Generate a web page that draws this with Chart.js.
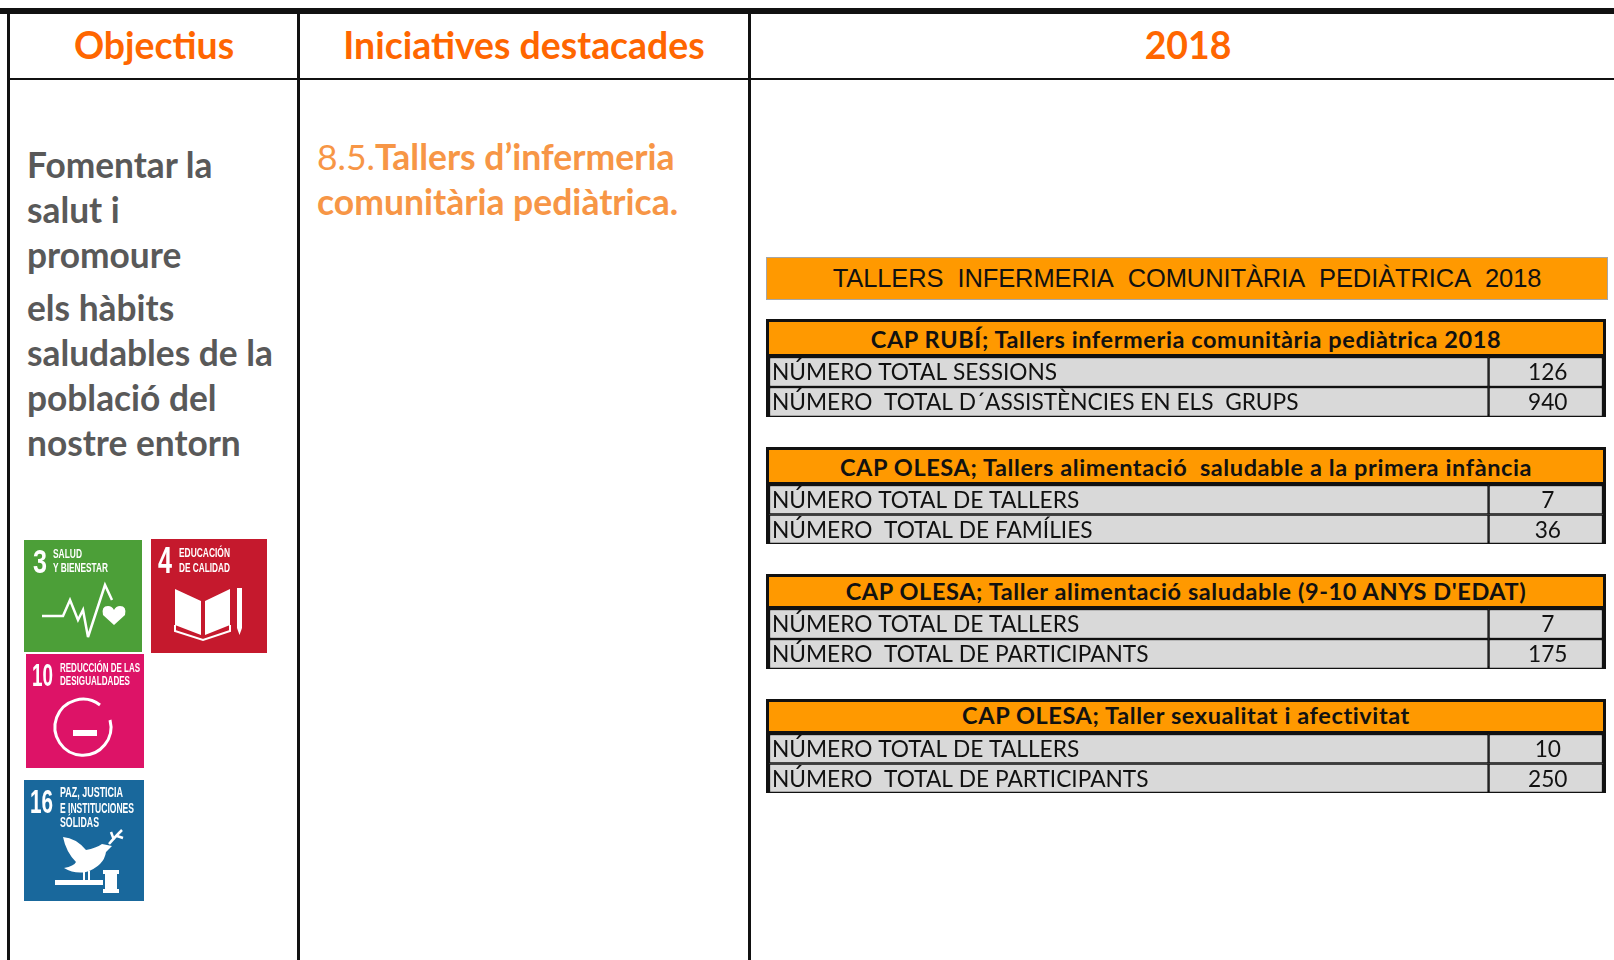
<!DOCTYPE html>
<html lang="ca">
<head>
<meta charset="utf-8">
<title>Tallers infermeria comunitària pediàtrica 2018</title>
<script src="https://cdn.jsdelivr.net/npm/chart.js@4"></script>
<style>
  html, body { margin: 0; padding: 0; background: #fff; overflow: hidden; }
  #page { position: relative; width: 1614px; height: 960px; font-family: Lato, sans-serif; }
  .line { position: absolute; background: #111; }
  .head { position: absolute; top: 23px; height: 44px; line-height: 44px; text-align: center;
          color: #ff6600; font-weight: 700; font-size: 37.4px; }
  .obj { position: absolute; left: 27px; color: #595959; font-weight: 700; font-size: 35.3px;
         line-height: 45px; white-space: nowrap; }
  .ini { position: absolute; left: 317px; top: 134px; color: #f79646; font-weight: 700; font-size: 35.5px;
         line-height: 45px; white-space: nowrap; }
  .ini span { font-weight: 400; }
  #banner { position: absolute; left: 766px; top: 257px; width: 842px; height: 43px; box-sizing: border-box;
            background: #ff9900; border: 1px solid #a6a6a6; text-align: center; line-height: 41px;
            font-family: "Liberation Sans", sans-serif; font-size: 25.5px; letter-spacing: -0.1px; color: #111; }
  .table { position: absolute; left: 766px; width: 840px; box-sizing: border-box; border: 3px solid #111; }
  .table .title { background: #ff9900; text-align: center; font-weight: 700; font-size: 23.5px;
                  color: #111; border-bottom: 3px solid #111; box-sizing: border-box; letter-spacing: 0.6px; }
  .table canvas { display: block; }
  svg.sdg { position: absolute; filter: blur(0.5px); overflow: visible; }
  svg.sdg text { font-family: "Liberation Sans", sans-serif; font-weight: 700; fill: #fff; }
</style>
</head>
<body>
<div id="page">
  <div class="line" style="left:0;top:8px;width:1614px;height:6px"></div>
  <div class="line" style="left:7px;top:8px;width:3px;height:952px"></div>
  <div class="line" style="left:297px;top:8px;width:3px;height:952px"></div>
  <div class="line" style="left:748px;top:8px;width:3px;height:952px"></div>
  <div class="line" style="left:7px;top:78px;width:1607px;height:2px"></div>

  <div class="head" style="left:10px;width:288px">Objectius</div>
  <div class="head" style="left:300px;width:448px">Iniciatives destacades</div>
  <div class="head" style="left:757px;width:862px">2018</div>

  <div class="obj" style="top:142px">Fomentar la<br>salut i<br>promoure</div>
  <div class="obj" style="top:285px">els hàbits<br>saludables de la<br>població del<br>nostre entorn</div>
  <div class="ini"><span>8.5.</span>Tallers d’infermeria<br>comunitària pediàtrica.</div>

  <svg class="sdg" style="left:24px;top:540px" width="118" height="112" viewBox="0 0 118 112">
    <rect width="118" height="112" fill="#4c9f38"/>
    <text x="9" y="33" font-size="34" textLength="14" lengthAdjust="spacingAndGlyphs">3</text>
    <text x="29" y="18" font-size="13" textLength="29" lengthAdjust="spacingAndGlyphs">SALUD</text>
    <text x="29" y="32" font-size="13" textLength="55" lengthAdjust="spacingAndGlyphs">Y BIENESTAR</text>
    <polyline points="18,76 39,76 46,60 54,80 59,70 64,97 81,45 88,60" fill="none" stroke="#fff" stroke-width="2.5"/>
    <path d="M90,85 L79,75 Q77,66 84,66 Q88,66 90,70 Q92,66 96,66 Q103,66 101,75 Z" fill="#fff"/>
  </svg>
  <svg class="sdg" style="left:151px;top:539px" width="116" height="114" viewBox="0 0 116 114">
    <rect width="116" height="114" fill="#c5192d"/>
    <text x="7" y="34" font-size="36" textLength="14" lengthAdjust="spacingAndGlyphs">4</text>
    <text x="28" y="18" font-size="13" textLength="51" lengthAdjust="spacingAndGlyphs">EDUCACIÓN</text>
    <text x="28" y="33" font-size="13" textLength="51" lengthAdjust="spacingAndGlyphs">DE CALIDAD</text>
    <path d="M24,50 L50,62 L50,96 L24,86 Z M54,62 L79,50 L79,86 L54,96 Z" fill="#fff"/>
    <path d="M24,86 L24,92 L52,101 L79,92 L79,86" fill="none" stroke="#fff" stroke-width="2"/>
    <rect x="86" y="49" width="5" height="40" fill="#fff"/>
    <path d="M86,89 L91,89 L88.5,96 Z" fill="#fff"/>
  </svg>
  <svg class="sdg" style="left:26px;top:654px" width="118" height="114" viewBox="0 0 118 114">
    <rect width="118" height="114" fill="#dd1367"/>
    <text x="6" y="32" font-size="32" textLength="21" lengthAdjust="spacingAndGlyphs">10</text>
    <text x="34" y="18" font-size="13" textLength="80" lengthAdjust="spacingAndGlyphs">REDUCCIÓN DE LAS</text>
    <text x="34" y="31" font-size="13" textLength="70" lengthAdjust="spacingAndGlyphs">DESIGUALDADES</text>
    <path d="M74,51 A28,28 0 1 0 84,66" fill="none" stroke="#fff" stroke-width="3"/>
    <rect x="47" y="76" width="24" height="6" fill="#fff"/>
  </svg>
  <svg class="sdg" style="left:24px;top:780px" width="120" height="121" viewBox="0 0 120 121">
    <rect width="120" height="121" fill="#19689c"/>
    <text x="6" y="33" font-size="34" textLength="23" lengthAdjust="spacingAndGlyphs">16</text>
    <text x="36" y="17" font-size="14" textLength="63" lengthAdjust="spacingAndGlyphs">PAZ, JUSTICIA</text>
    <text x="36" y="33" font-size="14" textLength="74" lengthAdjust="spacingAndGlyphs">E INSTITUCIONES</text>
    <text x="36" y="47" font-size="14" textLength="39" lengthAdjust="spacingAndGlyphs">SÓLIDAS</text>
    <path d="M39,57 Q52,58 62,70 Q72,68 78,64 L88,66 L82,72 Q80,86 62,92 Q50,94 40,88 Q50,86 52,82 Q42,72 39,57 Z" fill="#fff"/>
    <path d="M85,64 Q90,58 98,50 M90,60 L87,52 M93,56 L99,58" stroke="#fff" stroke-width="2.5" fill="none"/>
    <rect x="31" y="100" width="48" height="5" fill="#fff"/>
    <rect x="79" y="90" width="16" height="4" fill="#fff"/>
    <rect x="81" y="94" width="12" height="15" fill="#fff"/>
    <rect x="79" y="109" width="16" height="4" fill="#fff"/>
    <rect x="59" y="91" width="2" height="9" fill="#fff"/>
    <rect x="64" y="91" width="2" height="9" fill="#fff"/>
  </svg>

  <div id="banner">TALLERS&nbsp; INFERMERIA&nbsp; COMUNITÀRIA&nbsp; PEDIÀTRICA&nbsp; 2018</div>
  <div id="tables"></div>
</div>

<script>
// Dades de les taules
const titles = [
  'CAP RUBÍ; Tallers infermeria comunitària pediàtrica 2018',
  'CAP OLESA; Tallers alimentació  saludable a la primera infància',
  'CAP OLESA; Taller alimentació saludable (9-10 ANYS D\'EDAT)',
  'CAP OLESA; Taller sexualitat i afectivitat'
];
const labelsRubi = ['NÚMERO TOTAL SESSIONS', 'NÚMERO  TOTAL D´ASSISTÈNCIES EN ELS  GRUPS'];
const valuesRubi = [126, 940];
const labelsFamilies = ['NÚMERO TOTAL DE TALLERS', 'NÚMERO  TOTAL DE FAMÍLIES'];
const valuesFamilies = [7, 36];
const labelsAlimentacio = ['NÚMERO TOTAL DE TALLERS', 'NÚMERO  TOTAL DE PARTICIPANTS'];
const valuesAlimentacio = [7, 175];
const labelsSexualitat = ['NÚMERO TOTAL DE TALLERS', 'NÚMERO  TOTAL DE PARTICIPANTS'];
const valuesSexualitat = [10, 250];

const allLabels = [labelsRubi, labelsFamilies, labelsAlimentacio, labelsSexualitat];
const allValues = [valuesRubi, valuesFamilies, valuesAlimentacio, valuesSexualitat];

// Posició de cada taula a la pàgina
const tableBoxes = [
  { top: 319, height: 98, head: 35, lift: 0.5 },
  { top: 447, height: 97, head: 35, lift: 1 },
  { top: 574, height: 95, head: 32, lift: 2 },
  { top: 699, height: 94, head: 32, lift: 3 }
];
const columnSplit = 0.8628; // on comença la columna de valors

// Escriu el text de les cel·les fent servir les escales del diagrama
const cellText = {
  id: 'cellText',
  afterDatasetsDraw(chart) {
    const { ctx, scales: { x, y } } = chart;
    const labels = chart.data.labels;
    const values = chart.options.plugins.cellText.values;
    ctx.save();
    ctx.fillStyle = '#111';
    ctx.font = '22.7px Lato, sans-serif';
    ctx.textBaseline = 'middle';
    labels.forEach((label, i) => {
      const yPos = y.getPixelForValue(i) + 1;
      ctx.textAlign = 'left';
      ctx.fillText(label, x.getPixelForValue(0) + 3, yPos);
      ctx.textAlign = 'center';
      ctx.fillText(String(values[i]), x.getPixelForValue((columnSplit + 1) / 2) + 2, yPos);
    });
    ctx.restore();
  }
};

function drawTable(index) {
  const box = tableBoxes[index];
  const table = document.createElement('div');
  table.className = 'table';
  table.style.top = box.top + 'px';
  table.style.height = box.height + 'px';

  const title = document.createElement('div');
  title.className = 'title';
  title.textContent = titles[index];
  title.style.whiteSpace = 'pre';
  title.style.height = box.head + 'px';
  title.style.lineHeight = (box.head + 1 - box.lift * 2) + 'px';
  table.appendChild(title);

  const canvas = document.createElement('canvas');
  canvas.width = 834;
  canvas.height = box.height - box.head - 6 + 3;
  canvas.style.height = canvas.height + 'px';
  table.appendChild(canvas);
  document.getElementById('tables').appendChild(table);

  const labels = allLabels[index];
  const cell = {
    grouped: false, barPercentage: 1, categoryPercentage: 1,
    backgroundColor: '#d9d9d9', borderColor: '#111', borderWidth: 1.5, borderSkipped: false
  };
  new Chart(canvas, {
    type: 'bar',
    data: {
      labels: labels,
      datasets: [
        { ...cell, data: labels.map(() => [0, columnSplit]) },
        { ...cell, data: labels.map(() => [columnSplit, 1]) }
      ]
    },
    options: {
      indexAxis: 'y',
      responsive: false,
      animation: false,
      layout: { padding: 0 },
      scales: {
        x: { display: false, min: 0, max: 1 },
        y: { display: false }
      },
      plugins: {
        legend: { display: false },
        tooltip: { enabled: false },
        cellText: { values: allValues[index] }
      }
    },
    plugins: [cellText]
  });
}

titles.forEach((_, i) => drawTable(i));
</script>
</body>
</html>
